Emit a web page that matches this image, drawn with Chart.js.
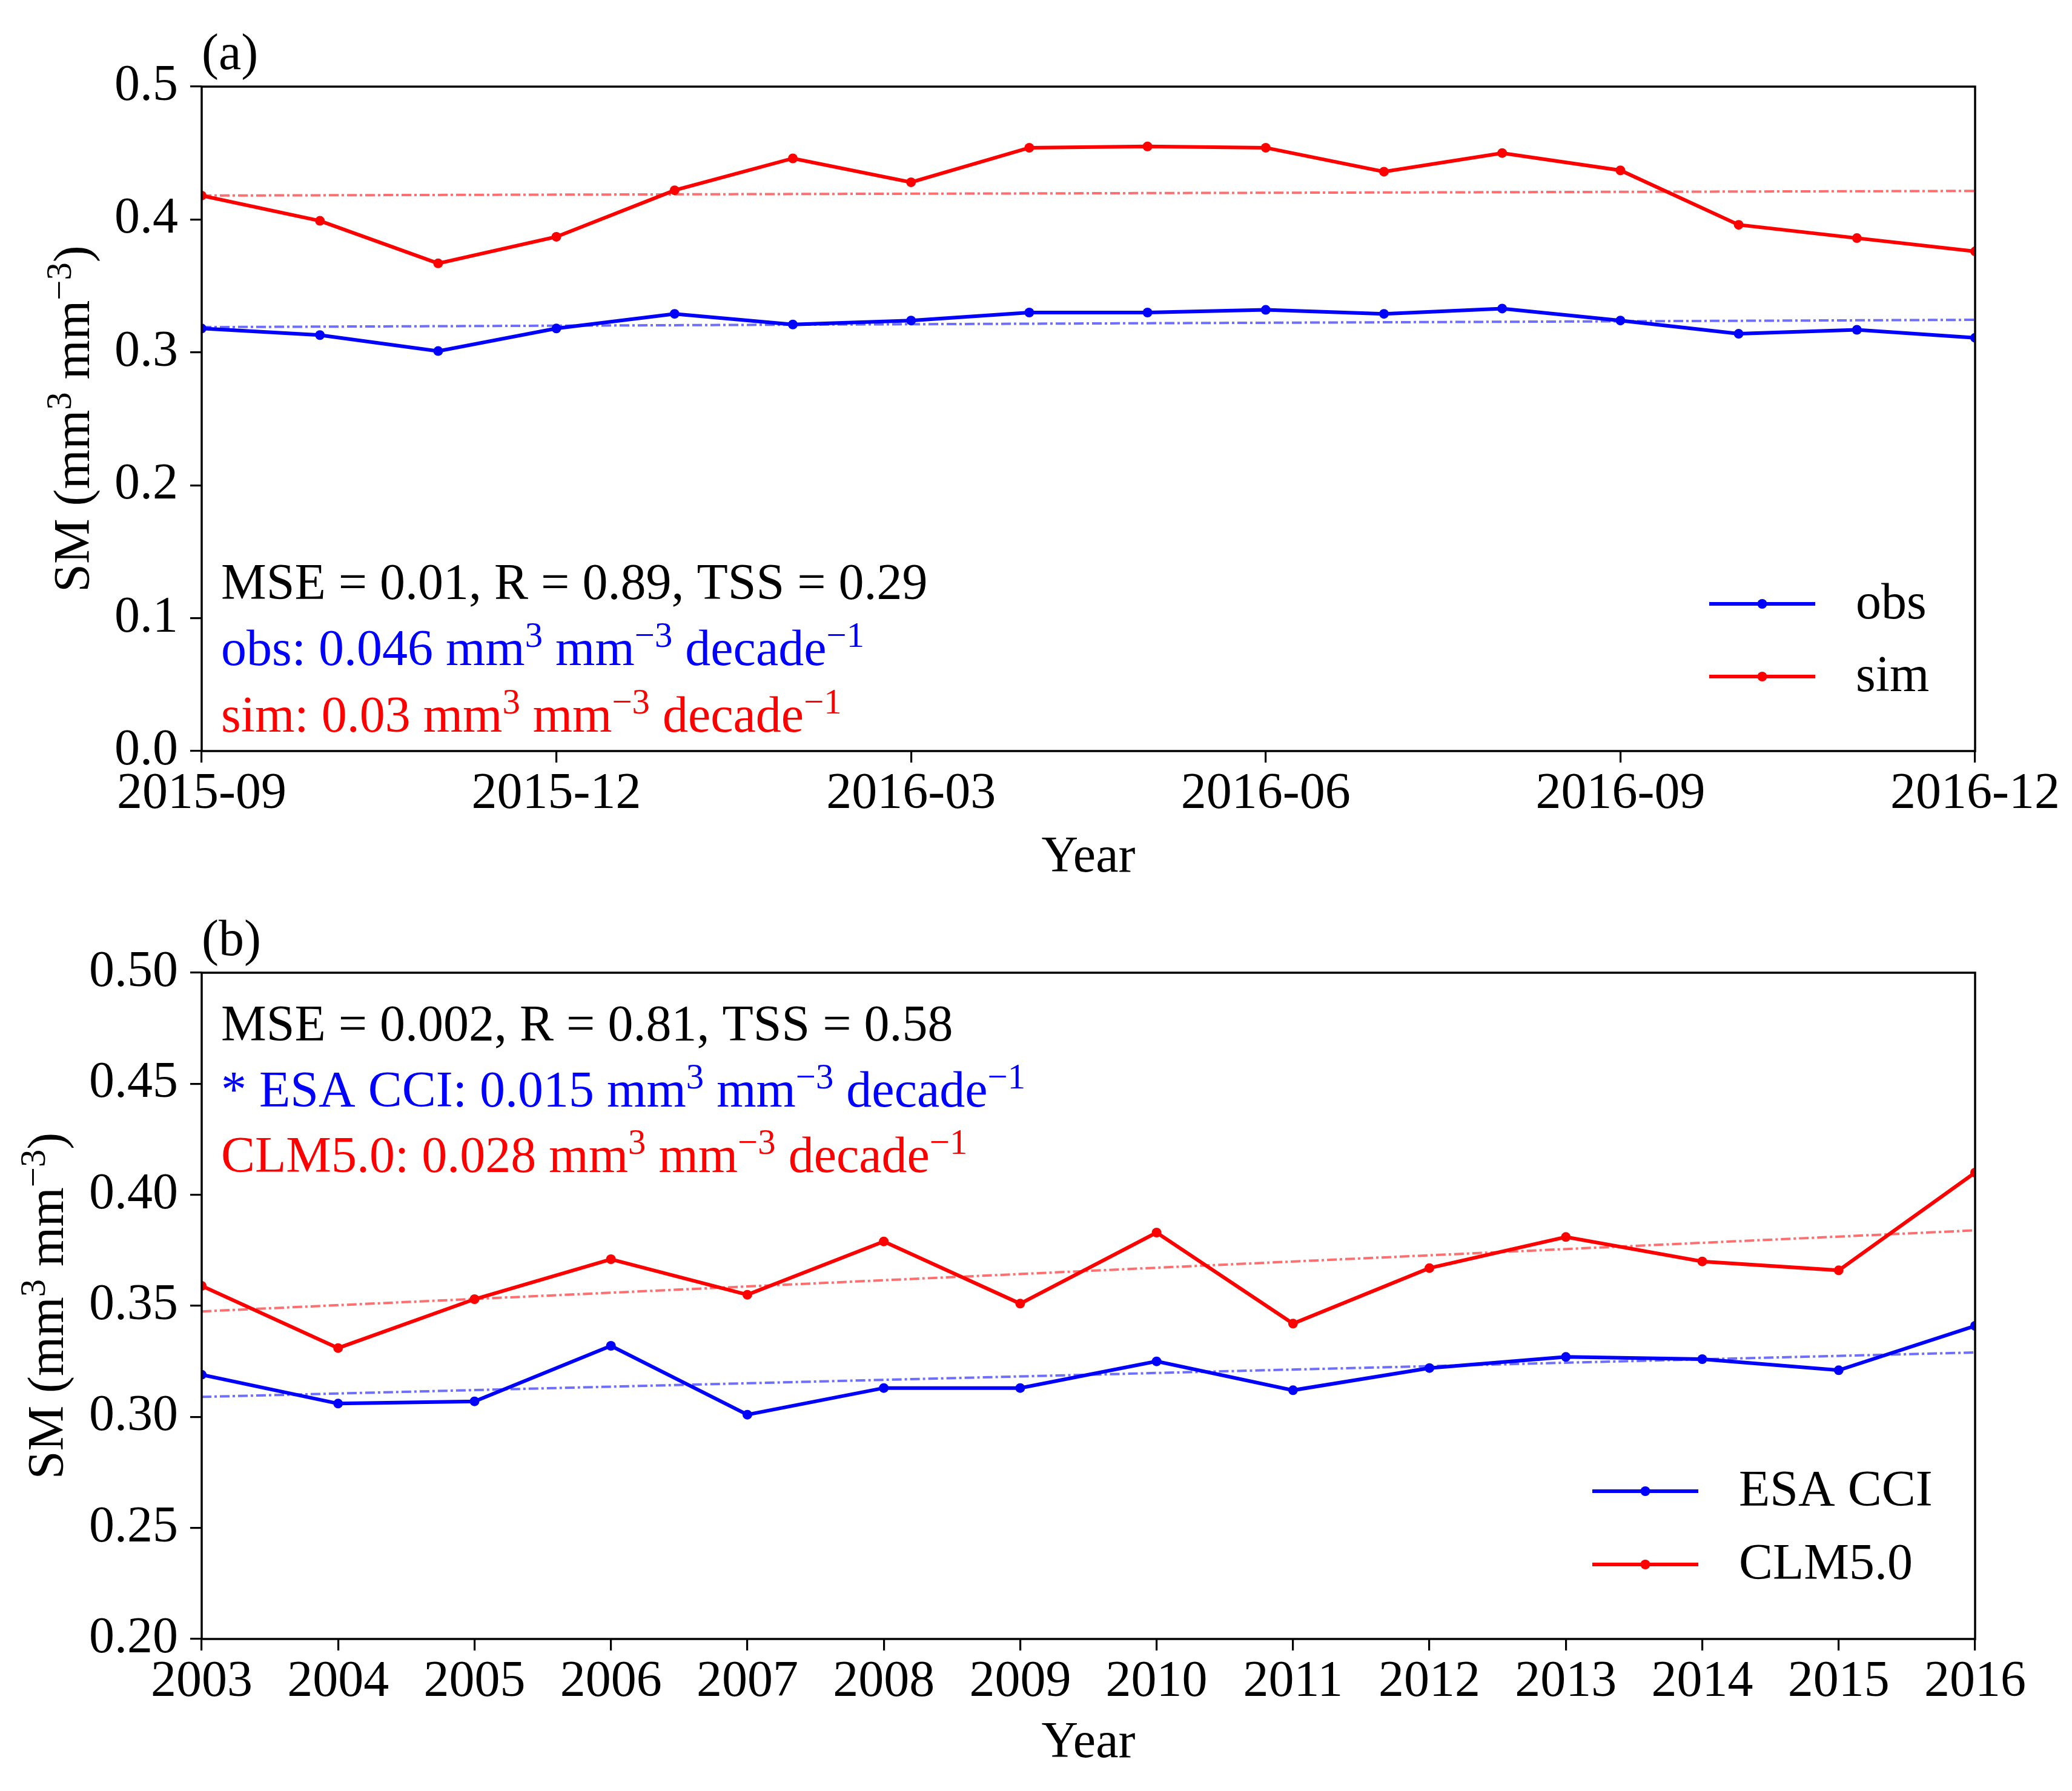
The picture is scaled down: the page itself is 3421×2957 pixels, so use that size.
<!DOCTYPE html>
<html><head><meta charset="utf-8">
<script src="https://cdn.jsdelivr.net/npm/chart.js@4.4.1/dist/chart.umd.min.js"></script>
<style>
html,body{margin:0;padding:0;background:#fff;}
#wrap{position:relative;width:3421px;height:2957px;background:#fff;}
canvas{position:absolute;left:0;}
</style></head><body>
<div id="wrap">
<canvas id="ca" width="3421" height="1478" style="top:0px;width:3421px;height:1478px"></canvas>
<canvas id="cb" width="3421" height="1479" style="top:1478px;width:3421px;height:1479px"></canvas>
</div>
<script>
// ---------- Panel (a) data ----------
const monthsA = ['2015-09','2015-10','2015-11','2015-12','2016-01','2016-02','2016-03','2016-04',
                 '2016-05','2016-06','2016-07','2016-08','2016-09','2016-10','2016-11','2016-12'];
const obsA = [0.318, 0.313, 0.301, 0.318, 0.329, 0.321, 0.324, 0.330, 0.330, 0.332, 0.329, 0.333, 0.324, 0.314, 0.317, 0.311];
const simA = [0.418, 0.399, 0.367, 0.387, 0.422, 0.446, 0.428, 0.454, 0.455, 0.454, 0.436, 0.450, 0.437, 0.396, 0.386, 0.376];
const obsTrendA = [0.3190, 0.3245];
const simTrendA = [0.4180, 0.4215];
const xTickLabelsA = ['2015-09','2015-12','2016-03','2016-06','2016-09','2016-12'];
const yTicksA = [0.0, 0.1, 0.2, 0.3, 0.4, 0.5];

// ---------- Panel (b) data ----------
const yearsB = [2003,2004,2005,2006,2007,2008,2009,2010,2011,2012,2013,2014,2015,2016];
const esaB = [0.319, 0.306, 0.307, 0.332, 0.301, 0.313, 0.313, 0.325, 0.312, 0.322, 0.327, 0.326, 0.321, 0.341];
const clmB = [0.359, 0.331, 0.353, 0.371, 0.355, 0.379, 0.351, 0.383, 0.342, 0.367, 0.381, 0.370, 0.366, 0.410];
const esaTrendB = [0.309, 0.329];
const clmTrendB = [0.3475, 0.384];
const yTicksB = [0.20, 0.25, 0.30, 0.35, 0.40, 0.45, 0.50];

const FONT = '"Liberation Serif", "Times New Roman", serif';
const FS = 84;
Chart.defaults.font.family = FONT;
Chart.defaults.color = '#000';

function segWidth(ctx, segs, size) {
  let w = 0;
  for (const s of segs) {
    ctx.font = `${s.sup ? size * 0.7 : size}px ${FONT}`;
    w += ctx.measureText(s.t).width;
  }
  return w;
}
function drawRich(ctx, segs, x, y, size, color) {
  let cx = x;
  ctx.fillStyle = color;
  ctx.textBaseline = 'alphabetic';
  ctx.textAlign = 'left';
  for (const s of segs) {
    ctx.font = `${s.sup ? size * 0.7 : size}px ${FONT}`;
    ctx.fillText(s.t, cx, s.sup ? y - size * 0.36 : y);
    cx += ctx.measureText(s.t).width;
  }
}
const unitSegs = (pre) => [{t: pre + ' mm'}, {t: '3', sup: true}, {t: ' mm'}, {t: '\u22123', sup: true}, {t: ' decade'}, {t: '\u22121', sup: true}];
const yLabelSegs = [{t: 'SM (mm'}, {t: '3', sup: true}, {t: ' mm'}, {t: '\u22123', sup: true}, {t: ')'}];

const deco = {
  id: 'deco',
  afterDatasetsDraw(chart, args, o) {
    const {ctx, chartArea: ca} = chart;
    ctx.save();
    ctx.strokeStyle = '#000';
    ctx.lineWidth = 3.5;
    ctx.strokeRect(ca.left, ca.top, ca.right - ca.left, ca.bottom - ca.top);
    // panel label
    ctx.font = `${FS}px ${FONT}`;
    ctx.fillStyle = '#000';
    ctx.textAlign = 'left';
    ctx.textBaseline = 'alphabetic';
    ctx.fillText(o.panel, ca.left, ca.top - 29);
    // annotations
    o.notes.forEach(n => drawRich(ctx, n.segs, ca.left + 32, n.y, FS, n.color));
    // legend
    const items = chart.data.datasets.filter(d => d.inLegend);
    items.forEach((d, i) => {
      const y = o.legend.y + i * o.legend.gap;
      ctx.strokeStyle = d.borderColor;
      ctx.lineWidth = d.borderWidth;
      ctx.setLineDash([]);
      ctx.beginPath(); ctx.moveTo(o.legend.x, y); ctx.lineTo(o.legend.x + 175, y); ctx.stroke();
      ctx.fillStyle = d.borderColor;
      ctx.beginPath(); ctx.arc(o.legend.x + 87.5, y, d.pointRadius, 0, Math.PI * 2); ctx.fill();
      ctx.fillStyle = '#000';
      ctx.font = `${FS}px ${FONT}`;
      ctx.textBaseline = 'middle';
      ctx.textAlign = 'left';
      ctx.fillText(d.label, o.legend.x + 242, y + 2);
    });
    // y axis label (rotated, with superscripts)
    const yc = (ca.top + ca.bottom) / 2;
    ctx.translate(o.yLabelX, yc);
    ctx.rotate(-Math.PI / 2);
    const w = segWidth(ctx, yLabelSegs, FS);
    drawRich(ctx, yLabelSegs, -w / 2, 0, FS, '#000');
    ctx.restore();
  }
};

function mainDs(label, xs, ys, color) {
  return {label, inLegend: true, data: xs.map((x, i) => ({x, y: ys[i]})),
    borderColor: color, backgroundColor: color, pointBackgroundColor: color,
    borderWidth: 6, pointRadius: 8, pointBorderWidth: 0, pointHoverRadius: 8, tension: 0, order: 0};
}
function trendDs(label, x0, x1, ys, color) {
  return {label, inLegend: false, data: [{x: x0, y: ys[0]}, {x: x1, y: ys[1]}],
    borderColor: color, borderWidth: 4, borderDash: [16, 5, 4, 5], pointRadius: 0, tension: 0, order: 1};
}
function axisCommon() {
  return {
    grid: {display: true, drawOnChartArea: false, drawTicks: true, tickLength: 19, lineWidth: 3.2, color: '#000'},
    border: {display: false},
  };
}

// ---------- Chart (a) ----------
const idxA = monthsA.map((m, i) => i);
const tickIdxA = xTickLabelsA.map(l => monthsA.indexOf(l));
new Chart(document.getElementById('ca'), {
  type: 'line',
  data: {datasets: [
    mainDs('obs', idxA, obsA, 'rgb(0,0,255)'),
    mainDs('sim', idxA, simA, 'rgb(255,0,0)'),
    trendDs('obs trend', idxA[0], idxA[idxA.length - 1], obsTrendA, 'rgba(50,50,255,0.7)'),
    trendDs('sim trend', idxA[0], idxA[idxA.length - 1], simTrendA, 'rgba(255,50,50,0.7)'),
  ]},
  options: {
    responsive: false, devicePixelRatio: 1, animation: false, events: [],
    layout: {padding: {top: 143, right: 160, left: 0, bottom: 0}},
    plugins: {legend: {display: false}, tooltip: {enabled: false},
      deco: {panel: '(a)', yLabelX: 147,
        legend: {x: 2822, y: 997, gap: 120},
        notes: [
          {segs: [{t: 'MSE = 0.01, R = 0.89, TSS = 0.29'}], y: 989, color: '#000'},
          {segs: unitSegs('obs: 0.046'), y: 1098, color: 'rgb(0,0,255)'},
          {segs: unitSegs('sim: 0.03'), y: 1208, color: 'rgb(255,0,0)'},
        ]}},
    scales: {
      x: Object.assign(axisCommon(), {type: 'linear', min: 0, max: monthsA.length - 1,
        afterBuildTicks: s => { s.ticks = tickIdxA.map(v => ({value: v})); },
        afterFit: s => { s.height = 1478 - 1240; },
        ticks: {font: {size: FS}, color: '#000', padding: 3, maxRotation: 0, autoSkip: false,
          callback: v => monthsA[v]},
        title: {display: true, text: 'Year', font: {size: FS}, color: '#000', padding: {top: 0, bottom: 11}}}),
      y: Object.assign(axisCommon(), {type: 'linear', min: 0, max: 0.5,
        afterBuildTicks: s => { s.ticks = yTicksA.map(v => ({value: v})); },
        afterFit: s => { s.width = 333; },
        ticks: {font: {size: FS}, color: '#000', padding: 20, callback: v => v.toFixed(1)}}),
    }
  },
  plugins: [deco]
});

// ---------- Chart (b) ----------
new Chart(document.getElementById('cb'), {
  type: 'line',
  data: {datasets: [
    mainDs('ESA CCI', yearsB, esaB, 'rgb(0,0,255)'),
    mainDs('CLM5.0', yearsB, clmB, 'rgb(255,0,0)'),
    trendDs('ESA trend', yearsB[0], yearsB[yearsB.length - 1], esaTrendB, 'rgba(50,50,255,0.7)'),
    trendDs('CLM trend', yearsB[0], yearsB[yearsB.length - 1], clmTrendB, 'rgba(255,50,50,0.7)'),
  ]},
  options: {
    responsive: false, devicePixelRatio: 1, animation: false, events: [],
    layout: {padding: {top: 128, right: 160, left: 0, bottom: 0}},
    plugins: {legend: {display: false}, tooltip: {enabled: false},
      deco: {panel: '(b)', yLabelX: 104,
        legend: {x: 2629, y: 2462 - 1478, gap: 121},
        notes: [
          {segs: [{t: 'MSE = 0.002, R = 0.81, TSS = 0.58'}], y: 1718 - 1478, color: '#000'},
          {segs: unitSegs('* ESA CCI: 0.015'), y: 1827 - 1478, color: 'rgb(0,0,255)'},
          {segs: unitSegs('CLM5.0: 0.028'), y: 1935 - 1478, color: 'rgb(255,0,0)'},
        ]}},
    scales: {
      x: Object.assign(axisCommon(), {type: 'linear', min: yearsB[0], max: yearsB[yearsB.length - 1],
        afterBuildTicks: s => { s.ticks = yearsB.map(v => ({value: v})); },
        afterFit: s => { s.height = 1479 - (2706 - 1478); },
        ticks: {font: {size: FS}, color: '#000', padding: 3, maxRotation: 0, autoSkip: false,
          callback: v => String(v)},
        title: {display: true, text: 'Year', font: {size: FS}, color: '#000', padding: {top: 0, bottom: 28}}}),
      y: Object.assign(axisCommon(), {type: 'linear', min: 0.2, max: 0.5,
        afterBuildTicks: s => { s.ticks = yTicksB.map(v => ({value: v})); },
        afterFit: s => { s.width = 333; },
        ticks: {font: {size: FS}, color: '#000', padding: 20, callback: v => v.toFixed(2)}}),
    }
  },
  plugins: [deco]
});
</script>
</body></html>
